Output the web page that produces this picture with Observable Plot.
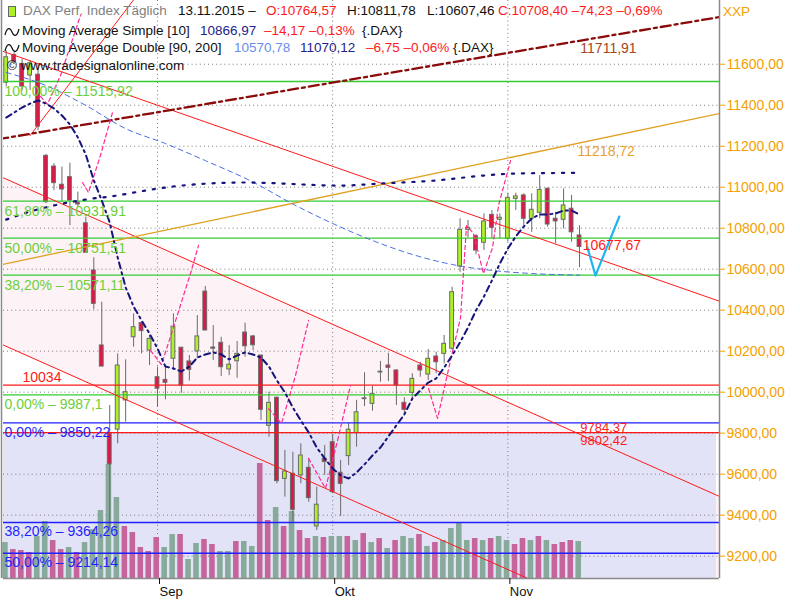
<!DOCTYPE html>
<html><head><meta charset="utf-8">
<script src="https://cdn.jsdelivr.net/npm/d3@7"></script>
<script src="https://cdn.jsdelivr.net/npm/@observablehq/plot@0.6"></script>
<style>
html,body{margin:0;padding:0;background:#fff;}
#wrap{position:relative;width:800px;height:600px;overflow:hidden;font-family:"Liberation Sans",Arial,sans-serif;}
#wrap > svg{position:absolute;left:0;top:0;}
.t{position:absolute;font-size:13.5px;line-height:16px;white-space:nowrap;color:#111;}
</style></head><body><div id="wrap"></div>
<script>
// ---------- data ----------
const dates = ["2015-08-05","2015-08-06","2015-08-07","2015-08-10","2015-08-11","2015-08-12","2015-08-13","2015-08-14","2015-08-17","2015-08-18","2015-08-19","2015-08-20","2015-08-21","2015-08-24","2015-08-25","2015-08-26","2015-08-27","2015-08-28","2015-08-31",
"2015-09-01","2015-09-02","2015-09-03","2015-09-04","2015-09-07","2015-09-08","2015-09-09","2015-09-10","2015-09-11","2015-09-14","2015-09-15","2015-09-16","2015-09-17","2015-09-18","2015-09-21","2015-09-22","2015-09-23","2015-09-24","2015-09-25","2015-09-28","2015-09-29","2015-09-30",
"2015-10-01","2015-10-02","2015-10-05","2015-10-06","2015-10-07","2015-10-08","2015-10-09","2015-10-12","2015-10-13","2015-10-14","2015-10-15","2015-10-16","2015-10-19","2015-10-20","2015-10-21","2015-10-22","2015-10-23","2015-10-26","2015-10-27","2015-10-28","2015-10-29","2015-10-30",
"2015-11-02","2015-11-03","2015-11-04","2015-11-05","2015-11-06","2015-11-09","2015-11-10","2015-11-11","2015-11-12","2015-11-13"];
const open  = [11510,11645,11602,11545,11549,11153,11101,11012,11049,10925,10824,10594,10228,9800,9817,9960,10268,10337,10203,
 10073,10060,10163,10217,10150,10199,10491,10218,10241,10111,10151,10291,10272,10179,9836,9973,9577,9602,9594,9631,9345,9675,
 9756,9607,9688,9800,9966,9943,10100,10130,10106,9948,9997,10130,10086,10174,10187,10212,10613,10792,10761,10729,10865,10841,
 10748,10943,10960,10846,10875,10992,10846,10841,10895,10764.57];
const high  = [11665,11660,11625,11618,11602,11160,11115,11098,11117,10976,10854,10656,10439,9935,10187,10158,10382,10341,10277,
 10122,10122,10382,10217,10179,10374,10516,10325,10268,10228,10247,10337,10277,10179,10000,9976,9716,9707,9748,9675,9537,9740,
 9794,9667,9847,9960,10095,10028,10150,10190,10109,9973,10090,10146,10208,10195,10277,10512,10846,10838,10769,10870,10886,10870,
 10969,10971,10968,10968,11057,10997,10878,10992,10960,10811.78];
const low   = [11490,11600,11470,11472,11276,10920,10983,10927,10813,10902,10677,10402,10125,9338,9748,9854,10220,10187,10130,
 9927,9963,10106,9995,10054,10163,10301,10155,10077,10081,10068,10171,10203,9862,9780,9553,9488,9366,9553,9463,9325,9594,
 9504,9394,9642,9732,9930,9907,10049,10052,9935,9886,9960,10073,10057,10090,10138,10203,10585,10753,10670,10691,10748,10748,
 10732,10886,10813,10780,10846,10805,10724,10797,10732,10607.46];
const close = [11634,11612,11491,11605,11296,10927,11020,10989,10935,10916,10680,10431,10125,9648,10130,10000,10317,10298,10260,
 10017,10046,10320,10033,10109,10272,10301,10212,10122,10134,10187,10224,10229,9914,9948,9566,9613,9426,9691,9483,9451,9659,
 9512,9553,9817,9902,9970,9992,10096,10119,10033,9914,10065,10106,10163,10146,10236,10488,10792,10802,10691,10833,10802,10851,
 10948,10955,10846,10890,10987,10818,10833,10911,10780,10708.40];
// volume (Mio. Stück, estimated) and colour class (g = grey-green, p = pink)
const volume = [72,58,56,52,84,114,76,58,62,52,72,98,136,228,162,104,92,62,54,
 82,62,88,88,38,70,78,68,54,54,74,74,64,230,116,142,104,134,96,80,84,82,
 84,84,84,76,90,72,80,60,76,84,80,88,64,72,76,100,112,76,80,76,80,84,
 76,68,80,76,84,76,68,72,76,74];
const volClass = "gpppggppgpgggggpppppggpggppggpggppgpgppgpggpgpgpgpggpgpggggpgpggppgpgpppggp";

// moving averages: [bar index, value]
const sma10 = [[0,11340],[1,11364],[2,11389],[3,11408],[4,11423],[5,11408],[6,11384],[7,11350],[8,11306],[9,11243],[10,11159],[11,11033],[12,10935],[13,10828],[14,10657],[15,10511],[16,10418],[17,10350],[18,10286],
 [19,10213],[20,10125],[21,10116],[22,10101],[23,10125],[24,10169],[25,10184],[26,10194],[27,10184],[28,10160],[29,10179],[30,10194],[31,10184],[32,10169],[33,10125],[34,10057],[35,9999],[36,9925],[37,9862],[38,9803],[39,9730],[40,9677],
 [41,9628],[42,9594],[43,9579],[44,9608],[45,9648],[46,9691],[47,9730],[48,9784],[49,9838],[50,9891],[51,9969],[52,10008],[53,10047],[54,10067],[55,10120],[56,10179],[57,10243],[58,10316],[59,10399],[60,10467],[61,10545],[62,10628],
 [63,10701],[64,10760],[65,10808],[66,10847],[67,10867],[68,10867],[69,10872],[70,10886],[71,10886],[72,10867]];
const ma90 = [[0,11560],[5,11496],[10,11399],[15,11286],[20,11213],[25,11130],[31,11025],[36,10918],[41,10823],[46,10740],[51,10672],[56,10623],[61,10594],[66,10579],[72,10571]];
const ma200 = [[0,10842],[3,10881],[6,10911],[10,10940],[14,10960],[16,10974],[22,11008],[30,11023],[42,11008],[47,11018],[54,11033],[60,11057],[64,11067],[72,11070]];
// pink dashed oscillating line, visible pieces: [piece, bar index, value]
const pinkLine = [
 [1,4.3,11443],[1,5.18,11404],[1,6.82,11545],[1,9.33,11838],
 [2,9.58,11023],[2,10.33,10974],[2,11.84,11155],[2,13.35,11365],
 [3,18.12,10203],[3,19.5,10135],[3,20.88,10301],[3,23.14,10579],[3,24.15,10716],
 [4,32.94,9920],[4,34.57,9847],[4,36.33,10081],[4,37.97,10350],
 [5,37.97,9677],[5,40.1,9530],[5,41.61,9764],[5,43.24,10033],
 [6,53.04,10018],[6,54.17,9872],[6,55.8,10155],[6,57.06,10364],[6,57.81,10813],[6,58.69,10774],[6,59.94,10579],[6,61.08,10706],[6,61.83,10911],[6,63.34,11130]];

// drawn levels
const fibGreen = [11515.92,10931.91,10751.51,10571.11,9987.1];
const fibGreenPct = ["100,00%","61,80%","50,00%","38,20%","0,00%"];
const fibBlue = [9850.22,9364.26,9214.14];
const fibBluePct = ["0,00%","38,20%","50,00%"];
const redLevels = [10034,9802.42];
// trend lines: [bar index, value] end points
const trendA = [[-1,11671],[90,10438]];
const trendB = [[-1,11057],[90,9484]];
const trendC = [[-1,10241],[90,8668]];
const trendD = [[3,11252],[17,11965]];
const trendOrange = [[-1,10619],[90,11363]];
const trendDashDot = [[-1,11234],[90,11833]];
const projection = [[73,10706],[74,10569],[77,10857]];
const yTicks = [9200,9400,9600,9800,10000,10200,10400,10600,10800,11000,11200,11400,11600];
const monthNames = ["Jan","Feb","Mär","Apr","Mai","Jun","Jul","Aug","Sep","Okt","Nov","Dez"];

// ---------- build ----------
const bars = dates.map((d,i)=>({i, date:d, open:open[i], high:high[i], low:low[i], close:close[i], vol:volume[i], vc:volClass[i]}));
const monthStarts = bars.filter((b,k)=>k>0 && b.date.slice(5,7)!==bars[k-1].date.slice(5,7)).map(b=>b.i);
const pts = a => a.map(([i,v])=>({i,v}));
const fmt = v => v.toFixed(2).replace(".",",");
const X0=-0.34, X1=89.58, Y0=9091, Y1=11911;
const common = {width:800,height:600,marginLeft:3,marginRight:81,marginTop:0,marginBottom:22,
  x:{domain:[X0,X1]}, style:{background:"transparent",fontFamily:"Liberation Sans, Arial, sans-serif",fontSize:"14px",overflow:"visible"}};
const orange="#f5a000", red="#ff1a1a", green="#33cc33", blue="#1f1fff";

// background layer
const bg = Plot.plot({...common, y:{domain:[Y0,Y1]}, axis:null, marks:[
  Plot.areaY([0,1].map(k=>({i:trendB[k][0], hi:trendB[k][1], lo:trendC[k][1]})), {x:"i", y1:"lo", y2:"hi", fill:"#fdf3f6", clip:true}),
  Plot.rect([redLevels[1]], {x1:X0, x2:89.2, y1:d=>d, y2:Y0, fill:"#e3e3f7"}),
  Plot.gridY(yTicks, {stroke:"#7a7a7a", strokeOpacity:1, strokeDasharray:"1,3.1"}),
  Plot.gridX(monthStarts, {stroke:"#7a7a7a", strokeOpacity:1, strokeDasharray:"1,3.1"})
]});

// volume layer
const vol = Plot.plot({...common, y:{domain:[0,1156]}, axis:null, marks:[
  Plot.rect(bars, {x1:d=>d.i-0.45, x2:d=>d.i+0.25, y1:0, y2:"vol", fill:d=>d.vc==="g"?"#88aa9a":"#c6659b"})
]});

// price layer
const line2 = (a, o) => Plot.line(pts(a), {x:"i", y:"v", clip:true, ...o});
const price = Plot.plot({...common, y:{domain:[Y0,Y1]}, marks:[
  Plot.ruleX(bars, {x:"i", y1:"low", y2:"high", stroke:"#6a6a6a", strokeWidth:1}),
  Plot.rect(bars, {x1:d=>d.i-0.24, x2:d=>d.i+0.24, y1:"open", y2:"close",
     fill:d=>d.close>=d.open?"#adf02a":"#dc1846", stroke:"#6a6a6a", strokeWidth:1}),
  Plot.ruleY(fibGreen, {stroke:green, strokeWidth:1.3}),
  Plot.ruleY(fibBlue, {stroke:blue, strokeWidth:1.3}),
  Plot.ruleY(redLevels, {stroke:red, strokeWidth:1.3}),
  line2(trendA, {stroke:red, strokeWidth:1}),
  line2(trendB, {stroke:red, strokeWidth:1}),
  line2(trendC, {stroke:red, strokeWidth:1}),
  line2(trendD, {stroke:red, strokeWidth:1}),
  line2(trendOrange, {stroke:"#e0a020", strokeWidth:1.3}),
  line2(trendDashDot, {stroke:"#8b0a0a", strokeWidth:2.3, strokeDasharray:"10,4,3,4"}),
  line2(ma90, {stroke:"#4a70e0", strokeWidth:1, strokeDasharray:"5,4", curve:"monotone-x"}),
  Plot.line(pinkLine.map(([z,i,v])=>({z,i,v})), {x:"i", y:"v", z:"z", stroke:"#ff2a90", strokeWidth:1.2, strokeDasharray:"4,3", clip:true}),
  line2(ma200, {stroke:"#14147a", strokeWidth:2.2, strokeDasharray:"2.2,7.8", curve:"monotone-x"}),
  line2(sma10, {stroke:"#14147a", strokeWidth:2, strokeDasharray:"6,4,2,4"}),
  line2(projection, {stroke:"#22b4f0", strokeWidth:2.2}),
  // labels
  Plot.text(fibGreen, {x:X0, y:d=>d, text:(d,k)=>`${fibGreenPct[k]} – ${String(d).replace(".",",")}`, textAnchor:"start", dx:1, dy:10, fill:"#6ccf3a", fontSize:14}),
  Plot.text(fibBlue, {x:X0, y:d=>d, text:(d,k)=>`${fibBluePct[k]} – ${fmt(d)}`, textAnchor:"start", dx:1, dy:9.5, fill:blue, fontSize:14}),
  Plot.text([redLevels[0]], {x:X0, y:d=>d, text:d=>String(d), textAnchor:"start", dx:19, dy:-8, fill:red, fontSize:14}),
  Plot.text([redLevels[1]], {x:72.1, y:d=>d, text:d=>fmt(d), textAnchor:"start", dy:8.5, fill:red, fontSize:13}),
  Plot.text([9784.37], {x:72.1, y:redLevels[1], text:d=>fmt(d), textAnchor:"start", dy:-5, fill:red, fontSize:13}),
  Plot.text([10677.67], {x:72.4, y:d=>d, text:d=>fmt(d), textAnchor:"start", dy:-7.5, fill:red, fontSize:14}),
  Plot.text([11218.72], {x:71.75, y:d=>d, text:d=>fmt(d), textAnchor:"start", dy:9, fill:"#e8a030", fontSize:14}),
  Plot.text([11711.91], {x:72.1, y:d=>d, text:d=>fmt(d), textAnchor:"start", dy:7, fill:"#a4461e", fontSize:14}),
  // frame
  Plot.ruleX([X1], {stroke:"#8a8a8a", strokeWidth:1.5}),
  Plot.ruleX([X0], {stroke:"#8a8a8a", strokeWidth:1.5, dx:-2}),
  Plot.ruleY([Y0], {stroke:"#8a8a8a", strokeWidth:1.5}),
  Plot.axisY({anchor:"right", ticks:yTicks, tickFormat:fmt, tickSize:5, tickPadding:2, color:orange, fontSize:14, label:null}),
  Plot.axisX({ticks:monthStarts, tickFormat:i=>monthNames[+bars[i].date.slice(5,7)-1], tickSize:6, tickPadding:2, textAnchor:"start", dx:2, fontSize:13, color:"#111", label:null})
]});

const wrap = document.getElementById("wrap");
wrap.append(bg, vol, price);

// legend (real text)
const last = bars[bars.length-1];
const legend = [
  [23,3,"#808080","DAX Perf. Index Täglich"],
  [178,3,"#111","13.11.2015 –"],
  [266,3,red,"O:"+fmt(last.open)],
  [347,3,"#111","H:"+fmt(last.high)],
  [427,3,"#111","L:"+fmt(last.low)],
  [498,3,red,"C:"+fmt(last.close)+" –74,23 –0,69%"],
  [22,23,"#111","Moving Average Simple [10]"],
  [200,23,"#22228a",fmt(sma10[sma10.length-1][1]-0.03)],
  [264,23,red,"–14,17 –0,13%"],
  [362,23,"#111","{.DAX}"],
  [22,39.5,"#111","Moving Average Double [90, 200]"],
  [234,39.5,"#6a8cf0","10570,78"],
  [300,39.5,"#22228a","11070,12"],
  [366,39.5,red,"–6,75 –0,06%"],
  [453,39.5,"#111","{.DAX}"],
  [7,58,"#111","© www.tradesignalonline.com"],
  [723,4,orange,"XXP"]
];
for (const [l,t,c,s] of legend){
  const d=document.createElement("div"); d.className="t";
  d.style.left=l+"px"; d.style.top=t+"px"; d.style.color=c; d.textContent=s; wrap.append(d);
}
// small legend icons
const icon = document.createElement("div");
icon.style.cssText="position:absolute;left:8px;top:6px;width:6px;height:9px;background:#adf02a;border:1px solid #666;";
wrap.append(icon);
for (const t of [27,43]){
  const s = document.createElementNS("http://www.w3.org/2000/svg","svg");
  s.setAttribute("width","16"); s.setAttribute("height","10");
  s.style.cssText=`position:absolute;left:4px;top:${t}px;`;
  s.innerHTML='<path d="M1,8 C3,0 6,0 8,5 S13,10 15,2" fill="none" stroke="#111" stroke-width="1.2"/>';
  wrap.append(s);
}
</script></body></html>
